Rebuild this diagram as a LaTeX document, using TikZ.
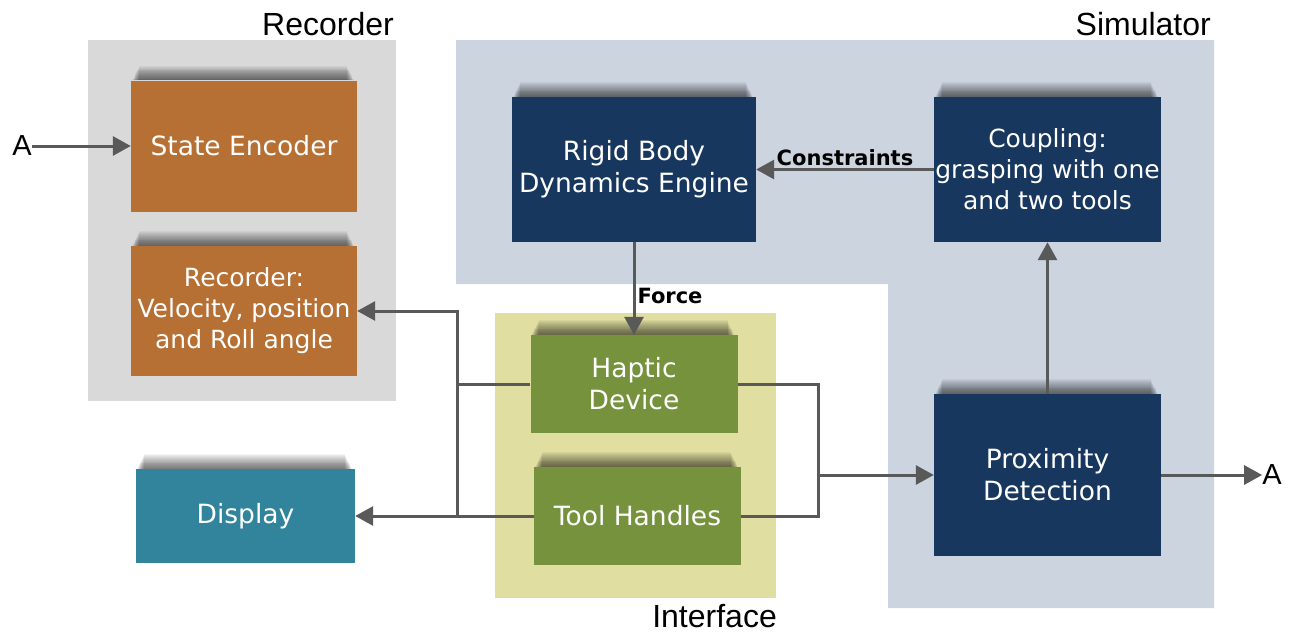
\documentclass[tikz,border=0pt]{standalone}
\usepackage{fontspec}
\setmainfont{DejaVu Sans}
\newfontfamily\regfont{Liberation Sans}
\usetikzlibrary{arrows.meta}
\definecolor{cgray}{HTML}{D9D9D9}
\definecolor{csim}{HTML}{CCD4E0}
\definecolor{cint}{HTML}{E0DEA0}
\definecolor{corange}{HTML}{B77034}
\definecolor{cnavy}{HTML}{17375E}
\definecolor{cgreen}{HTML}{76923C}
\definecolor{cteal}{HTML}{31849B}
\definecolor{cline}{HTML}{595959}
\tikzset{
  box/.style={draw=none, text=white, align=center, inner sep=0pt,
    font=\fontsize{26.5}{32}\selectfont},
  smalltext/.style={font=\fontsize{25}{31}\selectfont},
  shadowlayer/.style={fill=black, opacity=0.045},
  conn/.style={draw=cline, line width=3pt},
  arr/.style={conn, -{Triangle[length=18pt,width=19pt]}},
  region/.style={font=\regfont\fontsize{32}{32}\selectfont, inner sep=0pt},
  lbl/.style={font=\bfseries\fontsize{21}{21}\selectfont, inner sep=2pt},
}
\begin{document}
\begin{tikzpicture}[x=1pt,y=-1pt]
\useasboundingbox (0,0) rectangle (1301,637);
% regions
\fill[cgray] (88,40) rectangle (396,401);
\fill[csim] (456,40) -- (1214,40) -- (1214,608) -- (888,608) -- (888,284) -- (456,284) -- cycle;
\fill[cint] (495,313) rectangle (776,598);
\node[region, anchor=base east] (lrec) at (394,35) {Recorder};
\node[region, anchor=base east] (lsim) at (1211,35) {Simulator};
\node[region, anchor=base east] (lint) at (777,627) {Interface};
% boxes
\node[box, fill=corange, minimum width=226pt, minimum height=131pt] (se) at (244,146) {State Encoder};
\node[box, smalltext, fill=corange, minimum width=226pt, minimum height=130pt] (rec) at (244,311) {Recorder:\\Velocity, position\\and Roll angle};
\node[box, fill=cteal, minimum width=219pt, minimum height=94pt] (disp) at (245.5,516) {Display};
\node[box, fill=cnavy, minimum width=244pt, minimum height=145pt] (rb) at (634,169.5) {Rigid Body\\Dynamics Engine};
\node[box, smalltext, fill=cnavy, minimum width=227pt, minimum height=145pt] (cp) at (1047.5,169.5) {Coupling:\\grasping with one\\and two tools};
\node[box, fill=cgreen, minimum width=207pt, minimum height=98pt] (hap) at (634,384) {Haptic\\Device};
\node[box, fill=cgreen, minimum width=207pt, minimum height=98pt] (tool) at (637.5,516) {Tool Handles};
\node[box, fill=cnavy, minimum width=227pt, minimum height=162pt] (prox) at (1047.5,475) {Proximity\\Detection};
% soft shadows along the top edges
\foreach \n in {se,rec,disp,rb,cp,hap,tool,prox}{
  \foreach \i in {1,...,16}{
    \fill[shadowlayer] ([xshift=1pt+\i*0.45pt, yshift=\i*0.9pt]\n.north west) rectangle ([xshift=-3pt-\i*0.45pt]\n.north east);
  }
}
% A labels
\node[region, font=\regfont\fontsize{29}{29}\selectfont] (ain) at (22,146) {A};
\node[region, font=\regfont\fontsize{29}{29}\selectfont] (aout) at (1272,475) {A};
% connectors
\coordinate (jl) at (457,311);
\coordinate (jr) at (818,475);
\draw[arr] (ain.east) -- (se.west);
\draw[arr] (cp.west) -- node[lbl, above, pos=0.5] {Constraints} (rb.east);
\draw[arr] (rb.south) -- node[lbl, right, pos=0.58] {Force} (hap.north);
\draw[arr] (prox.north) -- (cp.south);
\draw[arr] (prox.east) -- (aout.west);
\draw[conn] (hap.west) -- (hap.west -| jl);
\draw[arr] (tool.west) -- (disp.east);
\draw[arr, line join=miter] (tool.west -| jl) -- (jl) -- (rec.east);
\draw[conn, line join=miter] (hap.east) -- (hap.east -| jr) -- (tool.east -| jr) -- (tool.east);
\draw[arr] (jr) -- (prox.west);
\end{tikzpicture}
\end{document}
